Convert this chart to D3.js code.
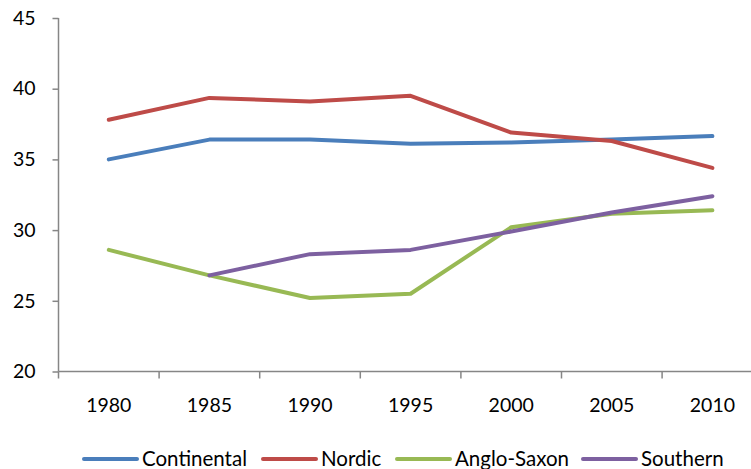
<!DOCTYPE html>
<html lang="en">
<head>
    <meta charset="UTF-8">
    <title>Regional comparison 1980-2010</title>
    <script src="https://d3js.org/d3.v7.min.js"></script>
    <style>
        body { margin: 0; background: #fff; }
        svg { display: block; }
        .tick text { font-family: Lato, "Open Sans", sans-serif; font-size: 19.5px; fill: #000; }
        .legend text { font-family: Lato, "Open Sans", sans-serif; font-size: 20.5px; fill: #000; }
        .axis path, .axis line { stroke: #868686; stroke-width: 1.5px; }
        .series { fill: none; stroke-width: 4px; stroke-linejoin: round; stroke-linecap: round; }
    </style>
</head>
<body>
    <svg width="751" height="469"></svg>

    <script>
        // data
        const years = ["1980", "1985", "1990", "1995", "2000", "2005", "2010"];
        const continental = [35.0, 36.4, 36.4, 36.1, 36.2, 36.4, 36.65];
        const nordic = [37.8, 39.35, 39.1, 39.5, 36.9, 36.3, 34.4];
        const angloSaxon = [28.6, 26.8, 25.2, 25.5, 30.2, 31.15, 31.4];
        const southern = [null, 26.8, 28.3, 28.6, 29.9, 31.25, 32.4];
        const yTicks = [20, 25, 30, 35, 40, 45];

        const series = [
            { name: "Continental", values: continental, color: "#4A7EBB" },
            { name: "Nordic", values: nordic, color: "#BE4B48" },
            { name: "Anglo-Saxon", values: angloSaxon, color: "#98B954" },
            { name: "Southern", values: southern, color: "#7D60A0" }
        ];

        const svg = d3.select("svg");
        const plotLeft = 58.5, plotTop = 18, plotBottom = 371.5, step = 100.6;

        const x = d3.scaleBand().domain(years).range([plotLeft, plotLeft + step * years.length]).paddingInner(0).paddingOuter(0);
        const y = d3.scaleLinear().domain([20, 45]).range([plotBottom, plotTop]);

        // y axis
        const yAxis = svg.append("g").attr("class", "axis")
            .attr("transform", `translate(${plotLeft},0)`)
            .call(d3.axisLeft(y).tickValues(yTicks).tickSize(6).tickPadding(17).tickSizeOuter(0));
        yAxis.select(".domain").remove();
        yAxis.append("line").attr("y1", plotTop).attr("y2", plotBottom);

        // x axis: labels centred in bands, ticks on band edges
        const xAxis = svg.append("g").attr("class", "axis")
            .attr("transform", `translate(0,${plotBottom})`)
            .call(d3.axisBottom(x).tickSize(0).tickPadding(27));
        xAxis.select(".domain").remove();
        xAxis.append("line").attr("x1", plotLeft).attr("x2", 751);
        xAxis.selectAll(".edge")
            .data(years)
            .enter().append("line")
            .attr("class", "edge")
            .attr("x1", d => x(d)).attr("x2", d => x(d))
            .attr("y1", 0).attr("y2", 7);

        const line = d3.line()
            .defined(d => d.v != null)
            .x(d => x(d.year) + x.bandwidth() / 2)
            .y(d => y(d.v));

        svg.selectAll(".series")
            .data(series)
            .enter().append("path")
            .attr("class", "series")
            .attr("stroke", d => d.color)
            .attr("d", d => line(d.values.map((v, i) => ({ year: years[i], v: v }))));

        // legend
        const legendX = [84, 263, 397, 583];
        const legend = svg.selectAll(".legend")
            .data(series)
            .enter().append("g")
            .attr("class", "legend")
            .attr("transform", (d, i) => `translate(${legendX[i]},459)`);
        legend.append("line")
            .attr("x1", 0).attr("x2", 53)
            .attr("stroke", d => d.color).attr("stroke-width", 4).attr("stroke-linecap", "round");
        legend.append("text")
            .attr("x", 58).attr("dy", "0.35em")
            .text(d => d.name);
    </script>
</body>
</html>
